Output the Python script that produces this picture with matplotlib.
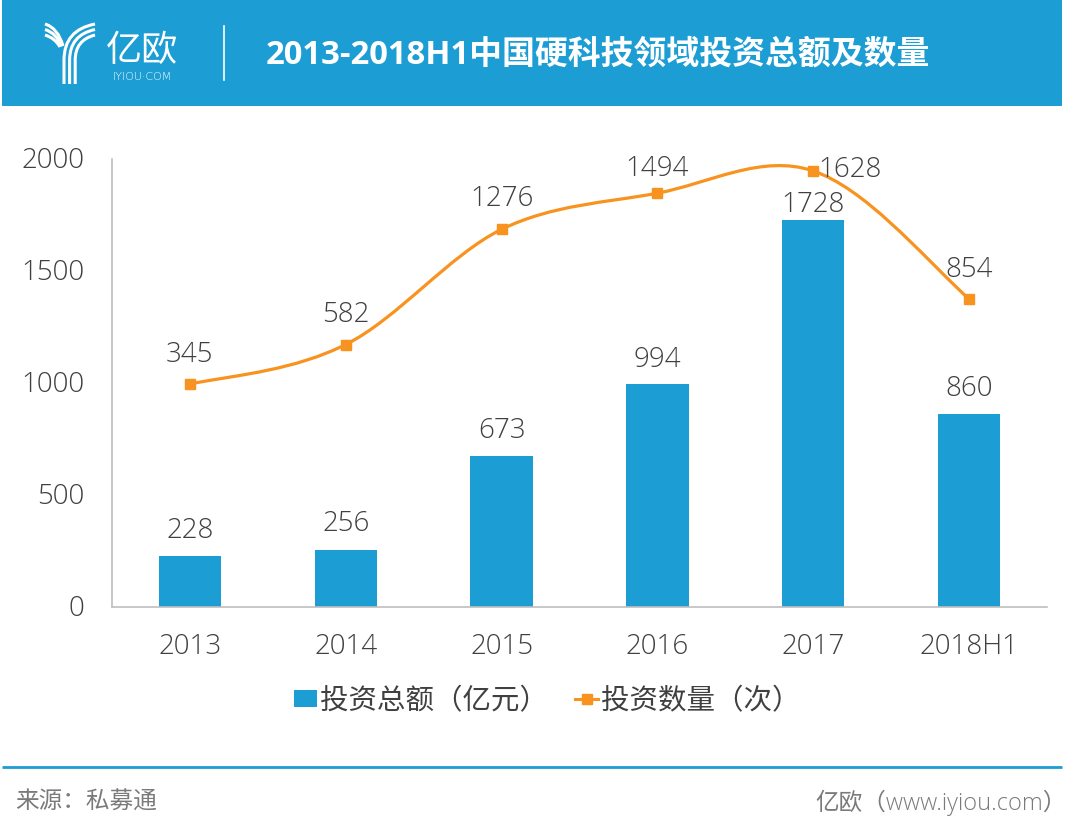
import numpy as np
import matplotlib
matplotlib.use("Agg")
import matplotlib.pyplot as plt
from matplotlib.path import Path
from matplotlib.patches import PathPatch, Rectangle
from matplotlib.transforms import ScaledTranslation

plt.rcParams['font.family'] = ['Open Sans', 'Noto Sans CJK SC', 'DejaVu Sans']
plt.rcParams['font.weight'] = 'light'

categories = ['2013', '2014', '2015', '2016', '2017', '2018H1']
amounts = [228, 256, 673, 994, 1728, 860]
counts = [345, 582, 1276, 1494, 1628, 854]
left_ticks = [0, 500, 1000, 1500, 2000]
title = '2013-2018H1中国硬科技领域投资总额及数量'
BLUE = '#1C9DD4'
ORANGE = '#F7931E'
TEXT = '#404040'
FS = 20

W, H = 1080, 833
fig = plt.figure(figsize=(W / 100, H / 100), dpi=100, facecolor='white')

def rect(x0, y0, x1, y1):
    return [x0 / W, 1 - y1 / H, (x1 - x0) / W, (y1 - y0) / H]

page = fig.add_axes([0, 0, 1, 1], zorder=0)
page.set_xlim(0, W); page.set_ylim(H, 0); page.axis('off')
page.add_patch(Rectangle((2, 0), 1060, 106, color=BLUE, lw=0))
page.plot([223.5, 223.5], [26, 80], color='white', lw=1.2)
page.text(266, 55, title, color='white', fontsize=23.7, fontweight='bold', va='center', ha='left',
          family=['Open Sans', 'Noto Sans CJK SC'])

# logo
for i in range(3):
    sx = 64 + i * 5.6
    page.add_patch(PathPatch(Path([(sx, 84), (sx, 60), (sx, 30 + i * 5), (95, 24 + i * 5.5)],
                                  [Path.MOVETO, Path.LINETO, Path.CURVE3, Path.CURVE3]),
                             fc='none', ec='white', lw=2.2, capstyle='butt'))
    page.add_patch(PathPatch(Path([(45, 24 + i * 5.5), (58 - i * 1.5, 28 + i * 5), (63 - i * 1.5, 46 + i * 0.5)],
                                  [Path.MOVETO, Path.CURVE3, Path.CURVE3]),
                             fc='none', ec='white', lw=2.2, capstyle='butt'))
page.text(142, 51, '亿欧', color='white', fontsize=26, va='center', ha='center',
          family=['Noto Sans CJK SC'], fontweight='light')
page.text(142, 77, 'IYIOU·COM', color='white', fontsize=8, va='center', ha='center', family=['DejaVu Sans'])

# bottom rule and source
page.plot([2, 1062], [766.5, 766.5], color=BLUE, lw=2, solid_capstyle='butt')
page.text(15, 803, '来源：私募通', color='#7a7a7a', fontsize=17, va='center', ha='left')
page.text(815, 803, '亿欧（www.iyiou.com）', color='#7a7a7a', fontsize=17, va='center', ha='left')

# chart
ax = fig.add_axes(rect(112, 159, 1047, 607), zorder=1)
ax.patch.set_alpha(0)
x = np.arange(len(categories))
ax.bar(x, amounts, width=0.4, color=BLUE, zorder=2)
ax.set_xlim(-0.5, 5.5)
ax.set_ylim(0, 2000)
ax.set_xticks(x, categories)
ax.set_yticks(left_ticks)
ax.tick_params(axis='both', length=0, labelsize=FS, labelcolor=TEXT)
ax.tick_params(axis='x', pad=19)
ax.tick_params(axis='y', pad=20)
shift_up = ScaledTranslation(0, 2 / 100, fig.dpi_scale_trans)
for lab in ax.get_yticklabels():
    lab.set_transform(lab.get_transform() + shift_up)
for s in ('top', 'right'):
    ax.spines[s].set_visible(False)
for s in ('left', 'bottom'):
    ax.spines[s].set_color('#BFBFBF'); ax.spines[s].set_linewidth(1.2)

px = 0.72
bar_gap = [25, 26, 25, 24, 15, 25]
for xi, v, g in zip(x, amounts, bar_gap):
    ax.annotate(str(v), (xi, v), xytext=(0, g * px), textcoords='offset points', ha='center', va='center',
                fontsize=FS, color=TEXT, zorder=5)

# count series on a hidden secondary scale
ax2 = ax.twinx()
ax2.set_ylim(-1000, 1700)
ax2.axis('off')
y = np.array(counts, float)
verts = [(x[0], y[0])]
codes = [Path.MOVETO]
k = 0.33
for i in range(len(x) - 1):
    m0 = (y[i + 1] - y[i - 1]) / 2 if i > 0 else (y[1] - y[0]) * 0.72
    m1 = (y[i + 2] - y[i]) / 2 if i + 2 < len(x) else (y[i + 1] - y[i]) * 1.15
    verts += [(x[i] + k, y[i] + m0 * k), (x[i + 1] - k, y[i + 1] - m1 * k), (x[i + 1], y[i + 1])]
    codes += [Path.CURVE4] * 3
ax2.add_patch(PathPatch(Path(verts, codes), fc='none', ec=ORANGE, lw=2.3, zorder=3))
ax2.plot(x, y, ls='none', marker='s', ms=6.5, color=ORANGE, zorder=4)
line_gap = [29, 30, 30, 24, 0, 29]
for i, (xi, v, g) in enumerate(zip(x, y, line_gap)):
    if i == 4:
        ax2.annotate(str(int(v)), (xi, v), xytext=(5 * px, 1 * px), textcoords='offset points',
                     ha='left', va='center', fontsize=FS, color=TEXT)
    else:
        ax2.annotate(str(int(v)), (xi, v), xytext=(0, g * px), textcoords='offset points',
                     ha='center', va='center', fontsize=FS, color=TEXT)

# legend
page2 = fig.add_axes([0, 0, 1, 1], zorder=3)
page2.set_xlim(0, W); page2.set_ylim(H, 0); page2.axis('off')
page2.add_patch(Rectangle((294, 690), 23, 17, color=BLUE, lw=0))
page2.text(320, 702, '投资总额（亿元）', fontsize=20.5, color=TEXT, va='center', ha='left')
page2.plot([575, 598], [698.5, 698.5], color=ORANGE, lw=2.2)
page2.plot([586.5], [698.5], marker='s', ms=6.5, color=ORANGE)
page2.text(601, 702, '投资数量（次）', fontsize=20.5, color=TEXT, va='center', ha='left')

fig.savefig('out.png', dpi=100, facecolor='white')
